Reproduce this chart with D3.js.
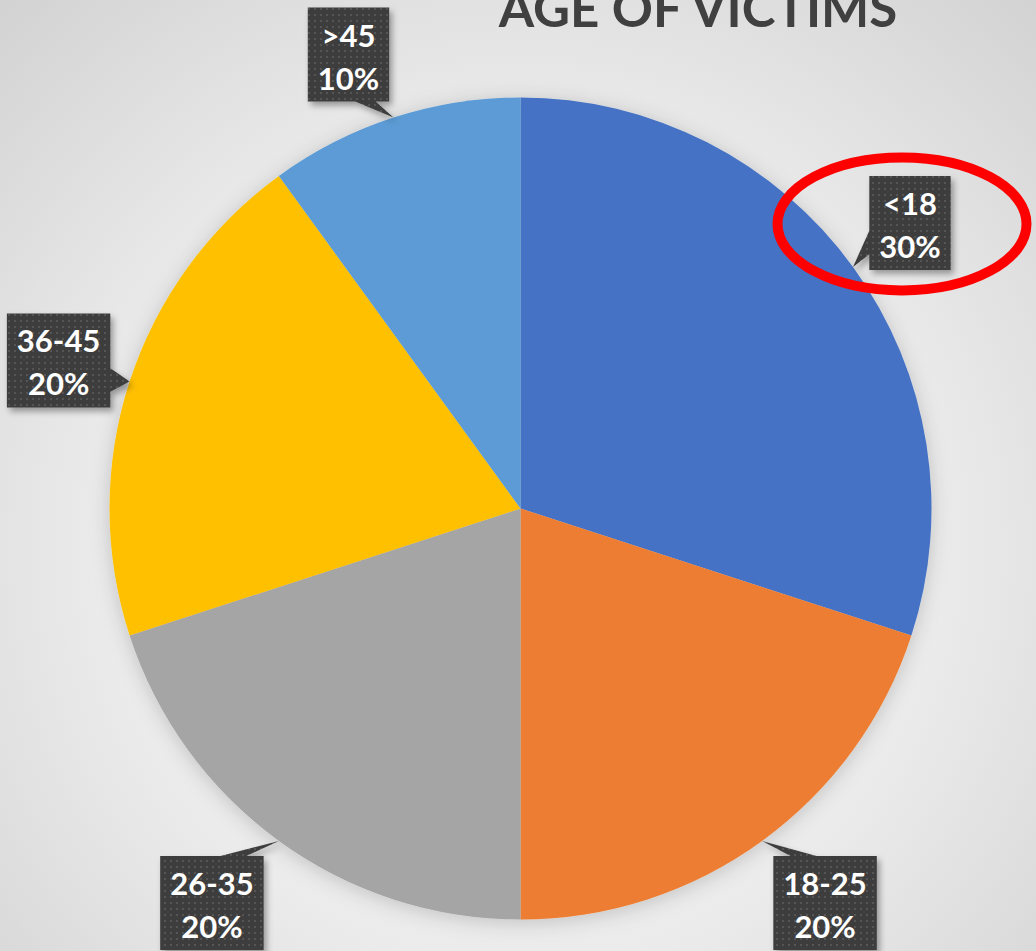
<!DOCTYPE html>
<html>
<head>
<meta charset="utf-8">
<script src="https://cdn.jsdelivr.net/npm/d3@7"></script>
<style>
  html, body { margin: 0; padding: 0; overflow: hidden; }
  svg { display: block; }
</style>
</head>
<body>
<svg id="chart"></svg>
<script>
const CATEGORIES = ["<18", "18-25", "26-35", "36-45", ">45"];
const VALUES = [30, 20, 20, 20, 10];
const COLORS = ["#4472C4", "#ED7D31", "#A5A5A5", "#FFC000", "#5B9BD5"];
const TITLE = "AGE OF VICTIMS";

// where each callout box sits relative to the point it points at
const LABEL_OFFSETS = [[57, -44], [63, 62], [-67, 62], [-71, -21], [-45, -63]];

const WIDTH = 1036;
const HEIGHT = 951;
const CX = 520.5;
const CY = 508.5;
const RADIUS = 411;

const svg = d3.select("#chart").attr("width", WIDTH).attr("height", HEIGHT);
const defs = svg.append("defs");

// background
const bg = defs.append("radialGradient")
  .attr("id", "bg").attr("gradientUnits", "userSpaceOnUse")
  .attr("cx", CX).attr("cy", CY + 40).attr("r", 760);
bg.append("stop").attr("offset", "0%").attr("stop-color", "#f5f5f5");
bg.append("stop").attr("offset", "55%").attr("stop-color", "#ebebeb");
bg.append("stop").attr("offset", "100%").attr("stop-color", "#d2d2d2");
svg.append("rect").attr("width", WIDTH).attr("height", HEIGHT).attr("fill", "url(#bg)");

// soft shadows
const pieShadow = defs.append("filter").attr("id", "pieShadow")
  .attr("x", "-20%").attr("y", "-20%").attr("width", "140%").attr("height", "140%");
pieShadow.append("feDropShadow").attr("dx", 0).attr("dy", 3).attr("stdDeviation", 10)
  .attr("flood-color", "#000").attr("flood-opacity", 0.18);

const boxShadow = defs.append("filter").attr("id", "boxShadow")
  .attr("x", "-30%").attr("y", "-30%").attr("width", "160%").attr("height", "160%");
boxShadow.append("feDropShadow").attr("dx", 3).attr("dy", 4).attr("stdDeviation", 3)
  .attr("flood-color", "#000").attr("flood-opacity", 0.35);

// dotted dark fill of the callouts
const dots = defs.append("pattern").attr("id", "dots")
  .attr("patternUnits", "userSpaceOnUse").attr("width", 6).attr("height", 6);
dots.append("rect").attr("width", 6).attr("height", 6).attr("fill", "#3d3d3d");
dots.append("rect").attr("x", 2).attr("y", 2).attr("width", 2).attr("height", 2).attr("fill", "#545454");

const pieData = CATEGORIES.map((c, i) => ({ category: c, value: VALUES[i], color: COLORS[i] }));

const pie = d3.pie().sort(null).value((d) => d.value);
const arc = d3.arc().innerRadius(0).outerRadius(RADIUS);
const arcs = pie(pieData);

const chart = svg.append("g").attr("transform", `translate(${CX},${CY})`);

chart.append("g")
  .attr("filter", "url(#pieShadow)")
  .selectAll("path")
  .data(arcs)
  .join("path")
  .attr("d", arc)
  .attr("fill", (d) => d.data.color);

// title (sits partly above the top edge, as in the original)
svg.append("text")
  .attr("x", 698)
  .attr("y", 27)
  .attr("text-anchor", "middle")
  .attr("font-family", "Lato, 'Open Sans', sans-serif")
  .attr("font-weight", 700)
  .attr("font-size", 51)
  .attr("fill", "#404040")
  .text(TITLE);

// callout (wedgeRectCallout) path: box l,t,w,h with pointer to tip
const calloutPath = (l, t, w, h, tipX, tipY) => {
  const r = l + w, b = t + h;
  const hc = l + w / 2, vc = t + h / 2;
  const dxPos = tipX - hc, dyPos = tipY - vc;
  const dq = (dxPos * h) / w;
  const dz = Math.abs(dyPos) - Math.abs(dq);
  const x1 = l + (w * (dxPos > 0 ? 7 : 2)) / 12;
  const x2 = l + (w * (dxPos > 0 ? 10 : 5)) / 12;
  const y1 = t + (h * (dyPos > 0 ? 7 : 2)) / 12;
  const y2 = t + (h * (dyPos > 0 ? 10 : 5)) / 12;
  const p = d3.path();
  p.moveTo(l, t);
  if (dz > 0 && dyPos < 0) { p.lineTo(x1, t); p.lineTo(tipX, tipY); p.lineTo(x2, t); }
  p.lineTo(r, t);
  if (dz <= 0 && dxPos > 0) { p.lineTo(r, y1); p.lineTo(tipX, tipY); p.lineTo(r, y2); }
  p.lineTo(r, b);
  if (dz > 0 && dyPos > 0) { p.lineTo(x2, b); p.lineTo(tipX, tipY); p.lineTo(x1, b); }
  p.lineTo(l, b);
  if (dz <= 0 && dxPos < 0) { p.lineTo(l, y2); p.lineTo(tipX, tipY); p.lineTo(l, y1); }
  p.closePath();
  return p.toString();
};

const tipArc = d3.arc().innerRadius(RADIUS).outerRadius(RADIUS);
const labels = svg.append("g");
const BOX_H = 94;
const PAD = 10;

arcs.forEach((d, i) => {
  const [tx, ty] = tipArc.centroid(d);
  const tipX = CX + tx, tipY = CY + ty;
  const bx = tipX + LABEL_OFFSETS[i][0];
  const by = tipY + LABEL_OFFSETS[i][1];
  const g = labels.append("g");
  const shape = g.append("path").attr("fill", "url(#dots)").attr("filter", "url(#boxShadow)");
  const text = g.append("text")
    .attr("text-anchor", "middle")
    .attr("font-family", "Lato, 'Open Sans', sans-serif")
    .attr("font-weight", 700)
    .attr("font-size", 31)
    .attr("fill", "#ffffff");
  text.append("tspan").attr("x", bx).attr("y", by - 8).text(d.data.category);
  text.append("tspan").attr("x", bx).attr("y", by + 35).text(d.data.value + "%");
  const w = text.node().getBBox().width + PAD * 2;
  shape.attr("d", calloutPath(bx - w / 2, by - BOX_H / 2, w, BOX_H, tipX, tipY));
  if (i === 0) {
    // red highlight ring round the first label
    svg.append("ellipse")
      .attr("cx", bx - 8).attr("cy", by + 1)
      .attr("rx", 124.5).attr("ry", 66.5)
      .attr("fill", "none")
      .attr("stroke", "#ff0000")
      .attr("stroke-width", 10);
  }
});
</script>
</body>
</html>
